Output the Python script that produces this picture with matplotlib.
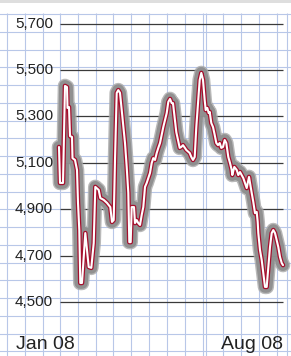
import matplotlib
matplotlib.use('Agg')
import matplotlib.pyplot as plt
import numpy as np

# trading day (days since 1 Jan 2008) and index level
days = [3, 4, 7, 9, 11, 11.5, 13, 14, 16, 16.5, 19, 21, 22, 23.3, 24.3, 26,
        29.3, 31, 32.7, 35.3, 37.7, 39.3, 42.7, 44.3, 47.7, 51, 54.3, 56, 57.7,
        59, 60.7, 62.3, 64, 65.7, 67.3, 69, 70.7, 72.3, 73.3, 74.7, 75.7, 78,
        79, 80.7, 82.3, 84, 85.7, 87.3, 89, 90.7, 92.3, 94, 95.7, 97.3, 99,
        100.7, 102.3, 104, 105.7, 107.3, 109, 110.7, 112.3, 114, 115.7, 117,
        118.7, 120.3, 122, 123.7, 125.3, 127, 130.3, 133.7, 135.3, 137, 138.7,
        140.3, 142, 143.7, 145.3, 147, 148.7, 149.7, 151.3, 152.7, 153.7, 155.3,
        157, 158.7, 160.3, 162, 163.7, 165.3, 167, 168.7, 170.3, 172.3, 174,
        175.7, 176.3, 178.3, 180.7, 182.3, 184, 185.7, 187.3, 189, 190.7, 193,
        194, 195.7, 197.3, 199, 200.7, 201.7, 202.3, 204, 205.7, 207.3, 209,
        210.7, 212.3, 214, 215.7, 217.3, 219, 220.7, 222.3, 224, 225.7, 227]
values = [5168, 5013, 5013, 5431, 5426, 5336, 5340, 5215, 5211, 5120, 5112,
          5069, 4927, 4810, 4582, 4582, 4797, 4724, 4651, 4647, 4754, 4996,
          4983, 4948, 4940, 4927, 4909, 4845, 4853, 5112, 5401, 5413, 5401,
          5327, 5254, 5185, 5082, 4970, 4758, 4758, 4909, 4909, 4840, 4853,
          4840, 4832, 4875, 4909, 4996, 5013, 5034, 5056, 5099, 5120, 5112,
          5142, 5164, 5185, 5220, 5254, 5284, 5314, 5362, 5375, 5357, 5357,
          5293, 5232, 5198, 5164, 5168, 5176, 5155, 5142, 5125, 5112, 5125,
          5254, 5357, 5457, 5487, 5457, 5370, 5327, 5336, 5314, 5319, 5271,
          5254, 5220, 5185, 5176, 5185, 5164, 5168, 5198, 5185, 5125, 5099,
          5069, 5047, 5082, 5069, 5047, 5060, 5047, 5034, 5013, 4991, 5039,
          5013, 4970, 4931, 4883, 4888, 4845, 4797, 4724, 4681, 4625, 4565,
          4565, 4651, 4737, 4797, 4810, 4797, 4767, 4737, 4694, 4668, 4659]
y_ticks = [4500, 4700, 4900, 5100, 5300, 5500, 5700]
x_labels = ['Jan 08', 'Aug 08']

W, H = 291, 356
fig = plt.figure(figsize=(W / 100, H / 100), dpi=100)

# graph paper background, in pixel units
bg = fig.add_axes([0, 0, 1, 1])
bg.set_xlim(0, W)
bg.set_ylim(H, 0)
bg.axis('off')
bg.axhspan(0, 3, color='#dedede', lw=0)
for y in np.arange(14, H, 17.75):
    bg.axhline(y, color='#b8c7e8', lw=0.8)
paper_x = [7, 25, 42.5, 60, 78, 96, 113, 131, 149, 166.5, 184.5, 202.5,
           205.5, 223, 241, 259, 276.5, 287]
bg.vlines(paper_x, 13, H, color='#b8c7e8', lw=0.8)

# chart in data units
ax = fig.add_axes([0, 0, 1, 1])
ax.patch.set_alpha(0)
ax.set_xlim(-56, 235)
ax.set_ylim(4267.3, 5801.3)
ax.axis('off')

ax.hlines(y_ticks, 4, 227, color='#3a3a3a', lw=0.9)
for v in y_ticks:
    ax.text(-3, v, f'{v:,}', ha='right', va='center', fontsize=11,
            family='Liberation Sans', color='#222222')

# soft grey shadow, then red outline with white core
ax.plot(days, values, color='#a8a8a8', lw=10.5, alpha=0.8,
        solid_joinstyle='round', solid_capstyle='round')
ax.plot(days, values, color='#8c8c8c', lw=8.5, alpha=0.9,
        solid_joinstyle='round', solid_capstyle='round')
ax.plot(days, values, color='#a50f2d', lw=3.3,
        solid_joinstyle='round', solid_capstyle='round')
ax.plot(days, values, color='white', lw=1.5,
        solid_joinstyle='round', solid_capstyle='round')

fig.text(16 / W, 1 - 349 / H, x_labels[0], ha='left', va='baseline',
         fontsize=14, family='Liberation Sans', color='#222222')
fig.text(283 / W, 1 - 349 / H, x_labels[1], ha='right', va='baseline',
         fontsize=14, family='Liberation Sans', color='#222222')

fig.savefig('out.png', dpi=100)
